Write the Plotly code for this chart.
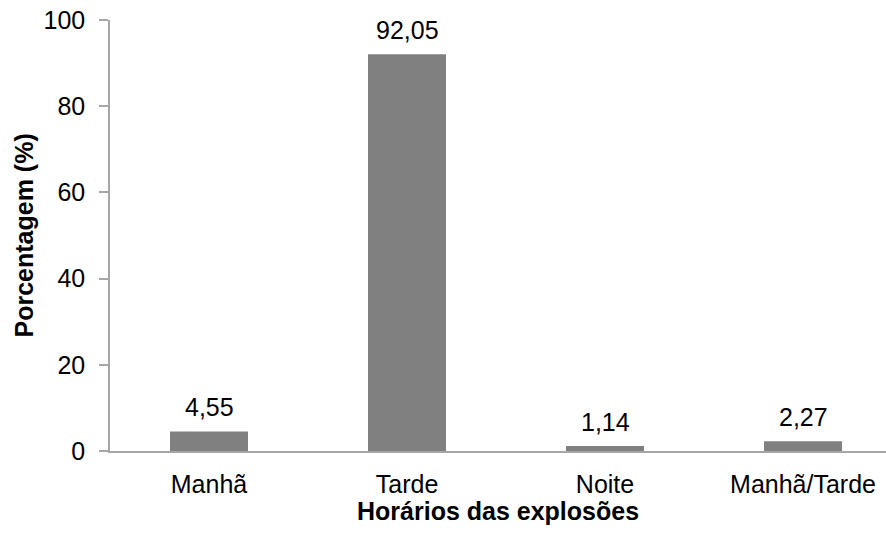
import plotly.graph_objects as go

# Horário das explosões e percentual de ocorrência
categorias = ["Manhã", "Tarde", "Noite", "Manhã/Tarde"]
porcentagens = [4.55, 92.05, 1.14, 2.27]
y_ticks = [0, 20, 40, 60, 80, 100]

FONT = "Liberation Sans, Arial, sans-serif"
AXIS_GRAY = "#a6a6a6"
TICK_SIZE = 25
TITLE_SIZE = 25

fig = go.Figure(
    go.Bar(
        x=list(range(len(categorias))),
        y=porcentagens,
        marker=dict(color="#808080", line=dict(width=0)),
        width=0.394,
        hoverinfo="skip",
    )
)

# Rótulos de valor acima de cada barra (vírgula decimal)
for i, v in enumerate(porcentagens):
    fig.add_annotation(
        x=i, y=v, text=f"{v:.2f}".replace(".", ","),
        showarrow=False, yanchor="bottom", yshift=8,
        font=dict(family=FONT, size=TICK_SIZE, color="#000000"),
    )

# Títulos dos eixos
fig.add_annotation(
    xref="paper", yref="paper", x=0.5, y=-0.0, yshift=-60,
    text="<b>Horários das explosões</b>", showarrow=False,
    xanchor="center", yanchor="middle",
    font=dict(family=FONT, size=TITLE_SIZE, color="#000000"),
)
fig.add_annotation(
    xref="paper", yref="paper", x=0, xshift=-87, y=0.5,
    text="<b>Porcentagem (%)</b>", showarrow=False, textangle=-90,
    xanchor="center", yanchor="middle",
    font=dict(family=FONT, size=TITLE_SIZE, color="#000000"),
)

fig.update_layout(
    width=886, height=535,
    margin=dict(l=110, r=0, t=20, b=84),
    paper_bgcolor="white", plot_bgcolor="white",
    showlegend=False,
    font=dict(family=FONT, size=TICK_SIZE, color="#000000"),
)

fig.update_xaxes(
    tickmode="array",
    tickvals=list(range(len(categorias))),
    ticktext=categorias,
    range=[-0.5, 3.419],
    showline=True, linecolor=AXIS_GRAY, linewidth=1.5,
    showgrid=False, zeroline=False,
    ticks="", ticklabelstandoff=10,
    tickfont=dict(family=FONT, size=TICK_SIZE, color="#000000"),
)
# Marcas de divisão entre categorias
for b in [0.5, 1.5, 2.5]:
    fig.add_shape(
        type="line", xref="x", yref="paper",
        x0=b, x1=b, y0=0, y1=0, line=dict(color=AXIS_GRAY, width=1.5),
        layer="above",
    )

fig.update_yaxes(
    range=[0, 100],
    tickmode="array", tickvals=y_ticks,
    showline=True, linecolor=AXIS_GRAY, linewidth=1.5,
    showgrid=False, zeroline=False,
    ticks="outside", ticklen=9, tickcolor=AXIS_GRAY, tickwidth=1.5,
    ticklabelstandoff=9,
    tickfont=dict(family=FONT, size=TICK_SIZE, color="#000000"),
)

fig.write_html("out.html")
